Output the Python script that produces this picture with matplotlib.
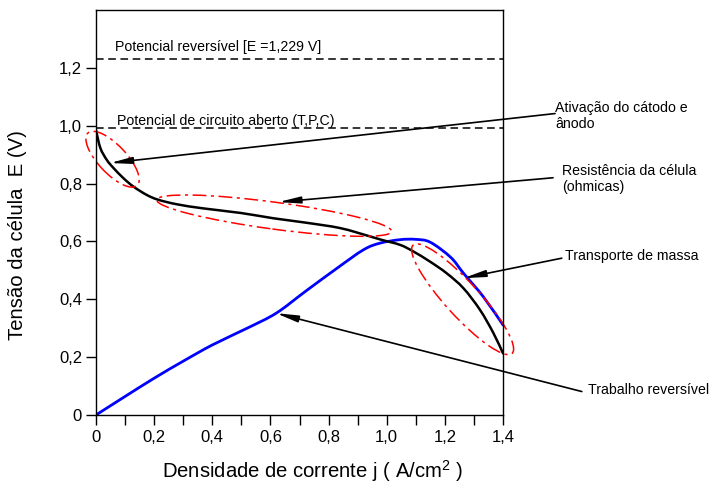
import numpy as np
import matplotlib
matplotlib.use('Agg')
import matplotlib.pyplot as plt
from matplotlib.patches import Ellipse, PathPatch
from matplotlib.path import Path

plt.rcParams['font.family'] = ['Liberation Sans', 'DejaVu Sans']
plt.rcParams['mathtext.fontset'] = 'custom'
plt.rcParams['mathtext.rm'] = 'Liberation Sans'

# curva de polarizacao (preta)
j_pol = [0, 0.015, 0.037, 0.06, 0.094, 0.128, 0.174, 0.214, 0.28, 0.37, 0.5,
         0.61, 0.72, 0.84, 0.94, 0.98, 1.046, 1.092, 1.149, 1.206, 1.264, 1.321,
         1.367, 1.40]
e_pol = [0.985, 0.923, 0.882, 0.854, 0.819, 0.79, 0.761, 0.744, 0.728, 0.714, 0.698,
         0.68, 0.665, 0.646, 0.618, 0.606, 0.588, 0.565, 0.53, 0.49, 0.438, 0.363,
         0.283, 0.213]

# curva de potencia (azul)
j_pot = [0, 0.1, 0.2, 0.3, 0.4, 0.52, 0.62, 0.72, 0.83, 0.92, 0.977, 1.046, 1.10,
         1.15, 1.22, 1.264, 1.332, 1.40]
e_pot = [0, 0.064, 0.127, 0.186, 0.242, 0.30, 0.352, 0.427, 0.508, 0.571, 0.594,
         0.606, 0.607, 0.597, 0.545, 0.49, 0.409, 0.311]

e_rev = 1.229
e_ca = 0.992

xticks = [0, 0.2, 0.4, 0.6, 0.8, 1.0, 1.2, 1.4]
xtick_labels = ['0', '0,2', '0,4', '0,6', '0,8', '1,0', '1,2', '1,4']
yticks = [0, 0.2, 0.4, 0.6, 0.8, 1.0, 1.2]
ytick_labels = ['0', '0,2', '0,4', '0,6', '0,8', '1,0', '1,2']


def smooth_path(xs, ys):
    # passa uma curva bezier (catmull-rom) pelos pontos
    p = np.column_stack([xs, ys])
    pe = np.vstack([p[0], p, p[-1]])
    verts = [p[0]]
    codes = [Path.MOVETO]
    for i in range(len(p) - 1):
        p0, p1, p2, p3 = pe[i], pe[i + 1], pe[i + 2], pe[i + 3]
        verts += [p1 + (p2 - p0) / 6, p2 - (p3 - p1) / 6, p2]
        codes += [Path.CURVE4] * 3
    return Path(verts, codes)


fig = plt.figure(figsize=(7.12, 4.84), dpi=100)
ax = fig.add_axes([0.1348, 0.1426, 0.5717, 0.8368])

ax.add_patch(PathPatch(smooth_path(j_pot, e_pot), fill=False, ec='#0000ff', lw=2.0,
                       capstyle='round', joinstyle='round'))
ax.add_patch(PathPatch(smooth_path(j_pol, e_pol), fill=False, ec='black', lw=1.8,
                       capstyle='round', joinstyle='round'))
ax.axhline(e_rev, color='black', lw=1.1, ls=(0, (5, 3)))
ax.axhline(e_ca, color='black', lw=1.1, ls=(0, (5, 3)))

ax.text(0.065, 1.273, 'Potencial reversível [E =1,229 V]', fontsize=10.2, va='center')
ax.text(0.071, 1.015, 'Potencial de circuito aberto (T,P,C)', fontsize=10.2, va='center')

# elipses vermelhas
red_dash = (0, (9, 3, 2, 3))
for c, w, h, a in [((0.057, 0.884), 0.248, 0.097, -47),
                   ((0.613, 0.689), 0.815, 0.093, -7.7),
                   ((1.261, 0.400), 0.506, 0.117, -47.8)]:
    ax.add_patch(Ellipse(c, w, h, angle=a, fill=False, ec='red', lw=1.1,
                         ls=red_dash, clip_on=False))

# setas
arrow = dict(arrowstyle='-|>,head_length=0.65,head_width=0.1', color='black',
             lw=1.2, shrinkA=0, shrinkB=0, mutation_scale=20)
for tip, start in [((0.048, 0.871), (1.579, 1.042)),
                   ((0.627, 0.736), (1.572, 0.820)),
                   ((1.264, 0.473), (1.602, 0.542)),
                   ((0.619, 0.352), (1.671, 0.081))]:
    ax.annotate('', xy=tip, xytext=start, arrowprops=arrow, annotation_clip=False)

ax.text(1.579, 1.087, 'Ativação do cátodo e\nânodo', fontsize=10.2, va='top', clip_on=False)
ax.text(1.603, 0.868, 'Resistência da célula\n(ohmicas)', fontsize=10.2, va='top', clip_on=False)
ax.text(1.613, 0.548, 'Transporte de massa', fontsize=10.2, va='center', clip_on=False)
ax.text(1.692, 0.0865, 'Trabalho reversível', fontsize=10.2, va='center', clip_on=False)

ax.set_xlim(0, 1.4)
ax.set_ylim(0, 1.4)
ax.set_xticks(xticks)
ax.set_xticklabels(xtick_labels)
ax.set_xticks(np.arange(0.1, 1.4, 0.2), minor=True)
ax.set_yticks(yticks)
ax.set_yticklabels(ytick_labels)
ax.tick_params(which='both', direction='out', length=7, width=1, labelsize=12)
ax.tick_params(axis='y', pad=3)
ax.tick_params(axis='x', pad=4)
for s in ax.spines.values():
    s.set_linewidth(1)

ax.set_xlabel('Densidade de corrente j ( A/cm$^{2}$ )', fontsize=14.6, va='center')
ax.xaxis.set_label_coords(0.533, -0.138)
ax.set_ylabel('Tensão da célula  E (V)', fontsize=14.6, va='center')
ax.yaxis.set_label_coords(-0.194, 0.444)

fig.savefig('out.png', dpi=100)
